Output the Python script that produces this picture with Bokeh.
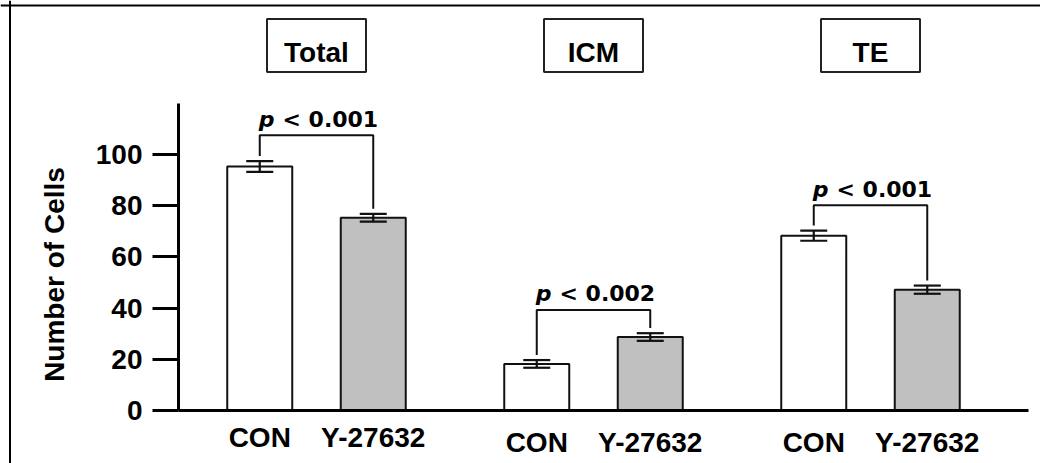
import math
from bokeh.plotting import figure
from bokeh.models import Range1d, LinearAxis, FixedTicker, Span, ColumnDataSource
from bokeh.core.properties import value
from bokeh.embed import file_html
from bokeh.resources import INLINE

# ---------------- data ----------------
groups = ["Total", "ICM", "TE"]
treatments = ["CON", "Y-27632"]
con_mean = [95.3, 18.2, 68.3]
con_sem = [2.1, 1.5, 2.0]
y27_mean = [75.3, 28.7, 47.2]
y27_sem = [1.5, 1.5, 1.6]
p_values = ["< 0.001", "< 0.002", "< 0.001"]
bracket_level = [107.5, 39.3, 80.2]
y_ticks = [0, 20, 40, 60, 80, 100]
y_axis_max = 120
y_label = "Number of Cells"

# ---------------- layout / style ----------------
W, H = 1040, 463
ZERO_Y = 410          # pixel row of value 0
PX_PER_UNIT = 2.56


def v(py):
    return (ZERO_Y - py) / PX_PER_UNIT


GROUP_X0 = 316
GROUP_STEP = 277
BAR_OFF = 56.75
BAR_W = 65
CAP_W = 27
AXIS_X = 178
BASE_END_X = 1028
FILLS = ["#ffffff", "#c0c0c0"]
LABEL_DY = [27, 32, 32]
INK = "#111111"

FONT = "Liberation Sans"
PFONT = "DejaVu Sans"

p = figure(width=W, height=H, output_backend="svg", toolbar_location=None,
           x_range=Range1d(0, W),
           y_range=Range1d(v(H), v(0)),
           x_axis_location=None, y_axis_location=None,
           min_border=0, tools="")
p.outline_line_color = None
p.background_fill_color = "white"
p.border_fill_color = "white"
p.grid.visible = False

# outer frame (top and left edges visible)
p.add_layout(Span(location=v(5), dimension="width", line_color="black", line_width=2))
p.add_layout(Span(location=9.5, dimension="height", line_color="black", line_width=2))

# build bar table
xs, tops, fills, lo, hi, c0, c1, labs, dys = [], [], [], [], [], [], [], [], []
centers = []
for g in range(len(groups)):
    c = GROUP_X0 + GROUP_STEP * g
    centers.append(c)
    for b, (m, s) in enumerate([(con_mean[g], con_sem[g]), (y27_mean[g], y27_sem[g])]):
        x = c + (BAR_OFF if b else -BAR_OFF)
        xs.append(x)
        tops.append(m)
        fills.append(FILLS[b])
        lo.append(m - s)
        hi.append(m + s)
        c0.append(x - CAP_W / 2)
        c1.append(x + CAP_W / 2)
        labs.append(treatments[b])
        dys.append(LABEL_DY[g])

src = ColumnDataSource(dict(x=xs, top=tops, fill=fills, lo=lo, hi=hi, c0=c0, c1=c1,
                            label=labs, dy=dys))

p.vbar(x="x", top="top", bottom=0, width=BAR_W, fill_color="fill",
       line_color=INK, line_width=2, source=src)
p.segment(x0="x", y0="lo", x1="x", y1="hi", line_color=INK, line_width=2.2, source=src)
p.segment(x0="c0", y0="hi", x1="c1", y1="hi", line_color=INK, line_width=2.2, source=src)
p.segment(x0="c0", y0="lo", x1="c1", y1="lo", line_color=INK, line_width=2.2, source=src)

# x labels
p.text(x="x", y=0, text="label", y_offset="dy", source=src,
       text_font=value(FONT), text_font_style="bold", text_font_size="28px",
       text_align="center", text_baseline="alphabetic", text_color="black")

# significance brackets
bxs, bys = [], []
for g in range(len(groups)):
    l = xs[2 * g]
    r = xs[2 * g + 1]
    B = bracket_level[g]
    bxs.append([l, l, r, r])
    bys.append([hi[2 * g] + 2.0, B, B, hi[2 * g + 1] + 2.0])
p.multi_line(xs=bxs, ys=bys, line_color=INK, line_width=2)

psrc = ColumnDataSource(dict(x=centers, y=bracket_level, t=p_values,
                             pp=["p"] * len(groups)))
p.text(x="x", y="y", text="pp", source=psrc, x_offset=-42, y_offset=-16,
       text_font=value(PFONT), text_font_style="bold italic", text_font_size="22px",
       text_align="right", text_baseline="alphabetic", text_color="black")
p.text(x="x", y="y", text="t", source=psrc, x_offset=-34, y_offset=-16,
       text_font=value(PFONT), text_font_style="bold", text_font_size="22px",
       text_align="left", text_baseline="alphabetic", text_color="black")

# title boxes
tsrc = ColumnDataSource(dict(x=centers, y=[v(45)] * len(groups), t=groups))
p.rect(x="x", y="y", width=99, height=53, height_units="screen", source=tsrc,
       fill_color="white", line_color="#222222", line_width=2)
p.text(x="x", y="y", text="t", source=tsrc, y_offset=7,
       text_font=value(FONT), text_font_style="bold", text_font_size="28px",
       text_align="center", text_baseline="alphabetic", text_color="black")

# y axis
yaxis = LinearAxis(fixed_location=AXIS_X, bounds=(0, y_axis_max),
                   ticker=FixedTicker(ticks=y_ticks, minor_ticks=[]))
yaxis.axis_line_width = 3
yaxis.axis_line_color = "black"
yaxis.major_tick_line_width = 3
yaxis.major_tick_line_color = "black"
yaxis.major_tick_out = 26
yaxis.major_tick_in = 0
yaxis.minor_tick_line_color = None
yaxis.major_label_standoff = 10
yaxis.major_label_text_font = FONT
yaxis.major_label_text_font_style = "bold"
yaxis.major_label_text_font_size = "28px"
yaxis.major_label_text_color = "black"
p.add_layout(yaxis, "left")

# x baseline
p.segment(x0=[AXIS_X], y0=[0], x1=[BASE_END_X], y1=[0], line_color="black", line_width=3)

# y axis title
p.text(x=[54], y=[v(274)], text=[y_label], angle=math.pi / 2,
       text_font=value(FONT), text_font_style="bold", text_font_size="28px",
       text_align="center", text_baseline="middle", text_color="black")

open("out.html", "w").write(file_html(p, INLINE))
